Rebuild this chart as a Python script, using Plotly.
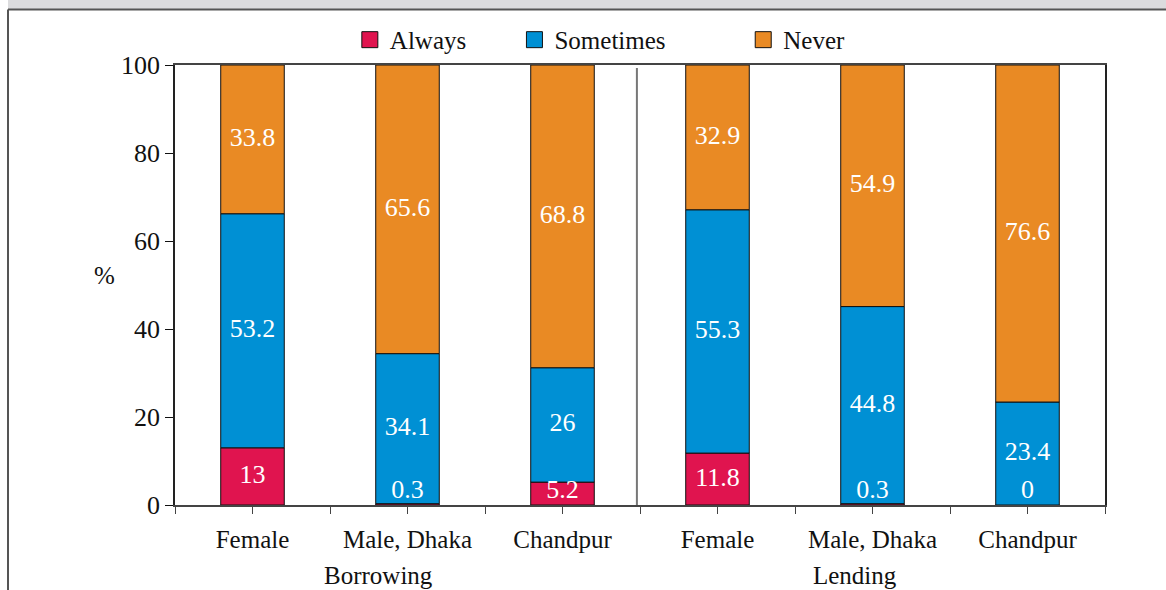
import numpy as np
import plotly.graph_objects as go

categories = ["Female", "Male, Dhaka", "Chandpur", "Female", "Male, Dhaka", "Chandpur"]
groups = ["Borrowing", "Lending"]
always = [13, 0.3, 5.2, 11.8, 0.3, 0]
sometimes = [53.2, 34.1, 26, 55.3, 44.8, 23.4]
never = [33.8, 65.6, 68.8, 32.9, 54.9, 76.6]
y_ticks = [0, 20, 40, 60, 80, 100]

series = [("Always", always, "#E0144F"), ("Sometimes", sometimes, "#0090D4"), ("Never", never, "#E98A24")]

FONT = "Liberation Serif, Times New Roman, serif"
FS = 25
xs = list(range(len(categories)))

fig = go.Figure()
base = np.zeros(len(categories))
for name, vals, col in series:
    v = np.array(vals, dtype=float)
    fig.add_trace(go.Bar(x=xs, y=v, base=base, name=name, marker=dict(color=col, line=dict(color="#111", width=1)),
                         width=0.41, showlegend=False, hoverinfo="skip"))
    centers = base + v / 2
    ypos = np.maximum(centers, 3.0)
    fig.add_trace(go.Scatter(x=xs, y=ypos, mode="text", text=[f"{x:g}" for x in v],
                             textfont=dict(family=FONT, size=26, color="white"), showlegend=False, hoverinfo="skip"))
    base = base + v

# legends
leg_x = [0.188, 0.365, 0.611]
for i, (name, vals, col) in enumerate(series):
    lg = "legend" if i == 0 else f"legend{i+1}"
    fig.add_trace(go.Scatter(x=[None], y=[None], mode="markers", name=name, legend=lg,
                             marker=dict(symbol="square", size=16, color=col, line=dict(color="#111", width=1))))

tickvals = list(np.arange(-0.5, len(categories), 0.5))
ticktext = [categories[int(t)] if float(t).is_integer() else "" for t in tickvals]

legend_common = dict(orientation="h", yanchor="middle", y=1.057, xanchor="left", bgcolor="rgba(0,0,0,0)",
                     font=dict(family=FONT, size=FS, color="#111"), itemsizing="trace", tracegroupgap=0)
layout_legends = {}
for i, lx in enumerate(leg_x):
    key = "legend" if i == 0 else f"legend{i+1}"
    layout_legends[key] = dict(legend_common, x=lx)

fig.update_layout(
    width=1166, height=590,
    margin=dict(l=175, r=61, t=65, b=85),
    paper_bgcolor="white", plot_bgcolor="white",
    barmode="overlay",
    font=dict(family=FONT, size=FS, color="#111"),
    showlegend=True,
    **layout_legends,
    xaxis=dict(range=[-0.5, len(categories) - 0.5], tickmode="array", tickvals=tickvals, ticktext=ticktext,
               ticks="outside", ticklen=7, tickcolor="#444", showline=True, linecolor="#444", linewidth=2,
               mirror=True, showgrid=False, zeroline=False, ticklabelstandoff=4,
               tickfont=dict(family=FONT, size=FS, color="#111")),
    yaxis=dict(range=[0, 100], tickmode="array", tickvals=y_ticks, ticks="outside", ticklen=8, tickcolor="#111",
               showline=True, linecolor="#222", linewidth=1.5, mirror=True, showgrid=False, zeroline=False,
               tickfont=dict(family=FONT, size=26, color="#111")),
)

# divider between groups
fig.add_shape(type="line", xref="x", yref="y", x0=2.48, x1=2.48, y0=0, y1=99.3, line=dict(color="#777", width=2))

# group labels
group_x = [0.81, 3.887]
for g, gx in zip(groups, group_x):
    fig.add_annotation(x=gx, xref="x", y=-0.161, yref="paper", yanchor="middle", text=g, showarrow=False,
                       font=dict(family=FONT, size=FS, color="#111"))

# y axis title
fig.add_annotation(x=(92 - 175) / 930, xref="paper", y=0.522, yref="paper", yanchor="middle", text="%",
                   showarrow=False, font=dict(family=FONT, size=FS, color="#111"))

# header band and frame
fig.add_shape(type="rect", xref="paper", yref="paper", x0=(8 - 175) / 930, x1=(1170 - 175) / 930,
              y0=(505 - 10) / 440, y1=(505 + 2) / 440, fillcolor="#DCDCDE", line=dict(width=0), layer="below")
fig.add_shape(type="line", xref="paper", yref="paper", x0=(8 - 175) / 930, x1=(1170 - 175) / 930,
              y0=(505 - 9.5) / 440, y1=(505 - 9.5) / 440, line=dict(color="#555", width=2))
fig.add_shape(type="line", xref="paper", yref="paper", x0=(8 - 175) / 930, x1=(8 - 175) / 930,
              y0=(505 - 590) / 440, y1=(505 - 9.5) / 440, line=dict(color="#555", width=2))

fig.write_html("out.html", config={"displayModeBar": False},
               post_script="document.body.style.margin='0';")
